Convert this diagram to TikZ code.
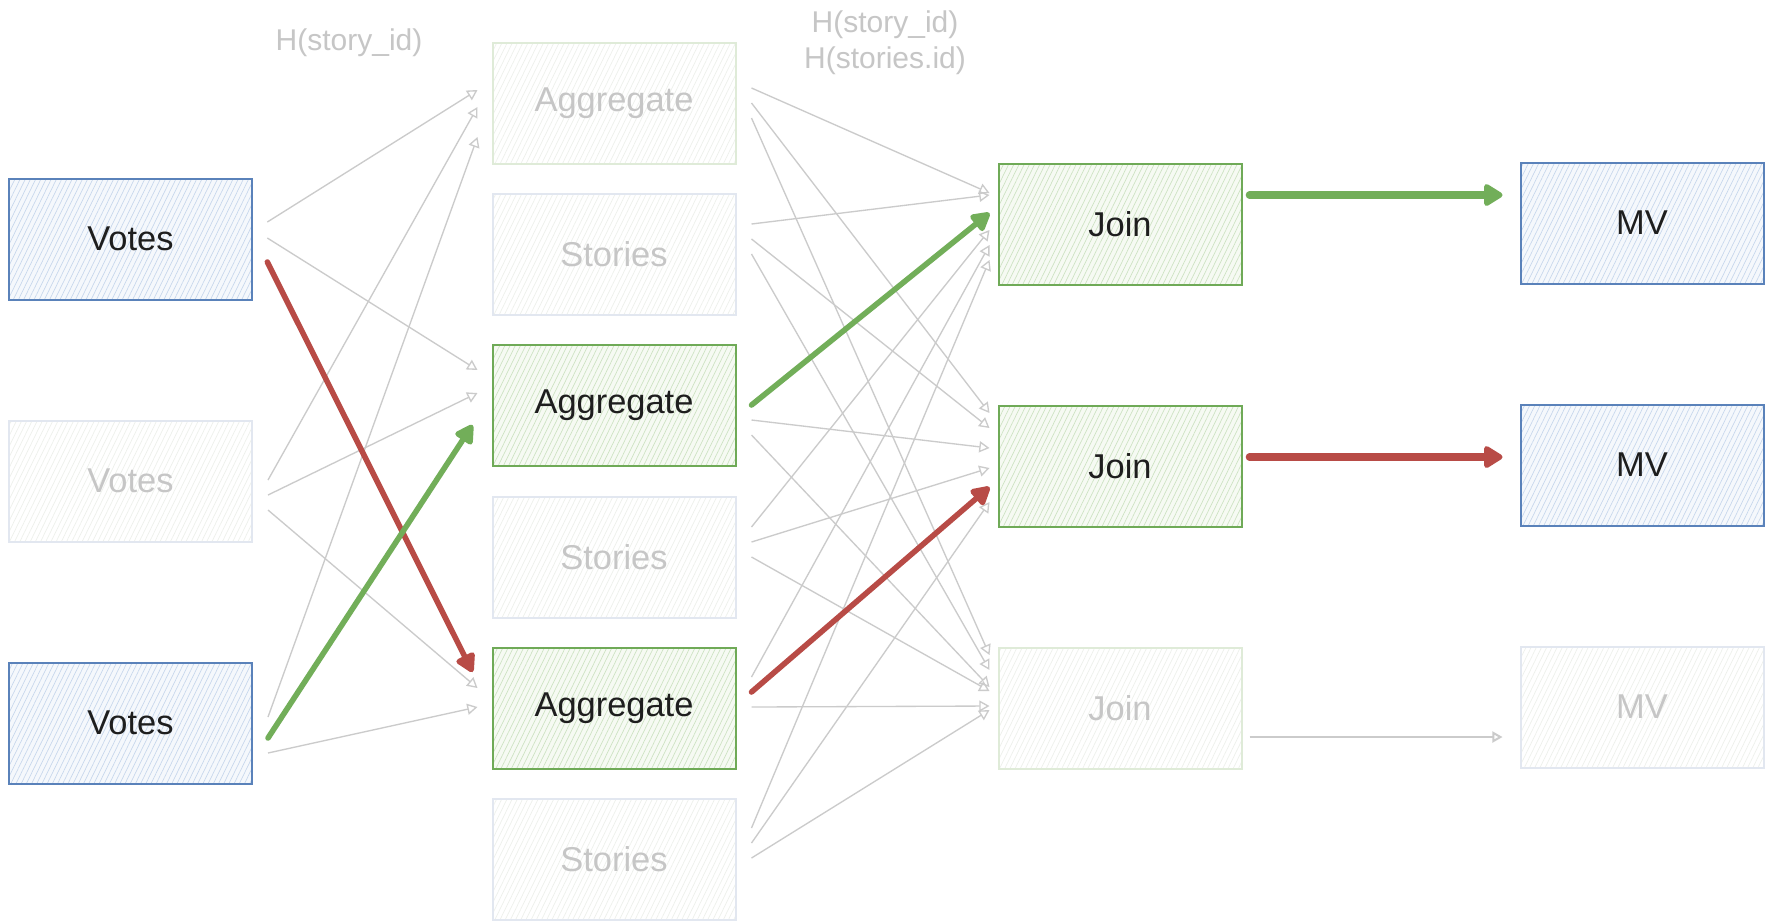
\documentclass[tikz,border=0pt]{standalone}
\usepackage{fontspec}
\setmainfont{Liberation Sans}
\usetikzlibrary{arrows.meta,patterns.meta,calc}

\definecolor{inkblack}{HTML}{1E1E1E}
\definecolor{blueline}{HTML}{5A82BA}
\definecolor{bluehatch}{HTML}{C6D6EC}
\definecolor{bluefill}{HTML}{F5F8FC}
\definecolor{greenline}{HTML}{6FAA57}
\definecolor{greenhatch}{HTML}{CCE2C1}
\definecolor{greenfill}{HTML}{F6FAF3}
\definecolor{palebline}{HTML}{E2E7F0}
\definecolor{palegline}{HTML}{DFEBD8}
\definecolor{palehatch}{HTML}{EDF0EB}
\definecolor{paletext}{HTML}{C6C6C6}
\definecolor{wire}{HTML}{CBCBCB}
\definecolor{hotred}{HTML}{B84B46}
\definecolor{hotgreen}{HTML}{72AE59}

\begin{document}
\begin{tikzpicture}[x=0.45pt,y=-0.45pt,
  box/.style={rectangle, minimum width=109.35pt, minimum height=54.45pt,
    inner sep=0pt, line width=0.9pt, font=\fontsize{15.5}{18}\selectfont},
  hatch/.style 2 args={preaction={fill=#1},
    pattern={Lines[angle=64,distance=2.1pt,line width=0.3pt]}, pattern color=#2},
  bluebox/.style={box, draw=blueline, hatch={bluefill}{bluehatch}, text=inkblack},
  greenbox/.style={box, draw=greenline, hatch={greenfill}{greenhatch}, text=inkblack},
  fadedblue/.style={box, draw=palebline, hatch={white}{palehatch}, text=paletext},
  fadedgreen/.style={box, draw=palegline, hatch={white}{palehatch}, text=paletext},
  keylabel/.style={text=paletext, font=\fontsize{13.5}{16}\selectfont, align=center, inner sep=0pt},
  wireline/.style={draw=wire, line width=0.6pt, -{Triangle[open,length=4.6pt,width=5pt]}},
  hotline/.style={draw=#1, line width=2.5pt, line cap=round,
    -{Triangle[length=9.5pt,width=10pt,round]}},
  outline/.style={draw=#1, line width=3.4pt, line cap=round,
    -{Triangle[length=9.5pt,width=11pt,round]}}
]
\fill[white] (0,0) rectangle (1767,923);
\useasboundingbox (0,0) rectangle (1767,923);

% partition labels
\node[keylabel] (hashA) at (349,43) {H(story\_id)};
\node[keylabel] (hashB) at (885,43) {H(story\_id)\\H(stories.id)};

% sources
\node[bluebox]   (v1) at (130.5,239) {Votes};
\node[fadedblue] (v2) at (130.5,481) {Votes};
\node[bluebox]   (v3) at (130.5,723) {Votes};

% aggregates and stories
\node[fadedgreen] (a1) at (614,103) {Aggregate};
\node[fadedblue]  (s1) at (614,254) {Stories};
\node[greenbox]   (a2) at (614,405) {Aggregate};
\node[fadedblue]  (s2) at (614,557) {Stories};
\node[greenbox]   (a3) at (614,708) {Aggregate};
\node[fadedblue]  (s3) at (614,859) {Stories};

% joins
\node[greenbox]   (j1) at (1120,224) {Join};
\node[greenbox]   (j2) at (1120,466) {Join};
\node[fadedgreen] (j3) at (1120,708) {Join};

% materialized views
\node[bluebox]   (m1) at (1642,223) {MV};
\node[bluebox]   (m2) at (1642,465) {MV};
\node[fadedblue] (m3) at (1642,707) {MV};

% shuffle: votes -> aggregates
\foreach \s/\sy/\t/\ty in {v1/-17/a1/-13, v1/-1/a2/-35, v2/-1/a1/4, v2/14/a2/-12,
    v2/29/a3/-20, v3/-6/a1/34, v3/30/a3/-1}
  \draw[wireline] ($(\s.east)+(15,\sy)$) -- ($(\t.west)+(-14,\ty)$);

% shuffle: aggregates/stories -> joins
\foreach \s/\sy/\t/\ty in {a1/-15/j1/-31, a1/0/j2/-53, a1/15/j3/-53,
    s1/-30/j1/-29, s1/-15/j2/-38, s1/0/j3/-38,
    a2/15/j2/-18, a2/30/j3/-21,
    s2/-30/j1/6, s2/-15/j2/2, s2/0/j3/-17,
    a3/-31/j1/21, a3/-1/j3/-2,
    s3/-31/j1/36, s3/-16/j2/36, s3/-1/j3/2}
  \draw[wireline] ($(\s.east)+(15,\sy)$) -- ($(\t.west)+(-8,\ty)$);

\draw[wireline, line width=0.9pt] ($(j3.east)+(7,29)$) -- ($(m3.west)+(-17,30)$);

% highlighted paths
\draw[hotline=hotred]   ($(v1.east)+(15,23)$) -- ($(a3.west)+(-19,-36)$);
\draw[hotline=hotgreen] ($(v3.east)+(15,15)$) -- ($(a2.west)+(-19,20)$);
\draw[hotline=hotgreen] ($(a2.east)+(15,0)$)  -- ($(j1.west)+(-8,-11)$);
\draw[hotline=hotred]   ($(a3.east)+(15,-16)$) -- ($(j2.west)+(-8,21)$);
\draw[outline=hotgreen] ($(j1.east)+(7,-29)$) -- ($(m1.west)+(-17,-28)$);
\draw[outline=hotred]   ($(j2.east)+(7,-9)$)  -- ($(m2.west)+(-17,-8)$);
\end{tikzpicture}
\end{document}
